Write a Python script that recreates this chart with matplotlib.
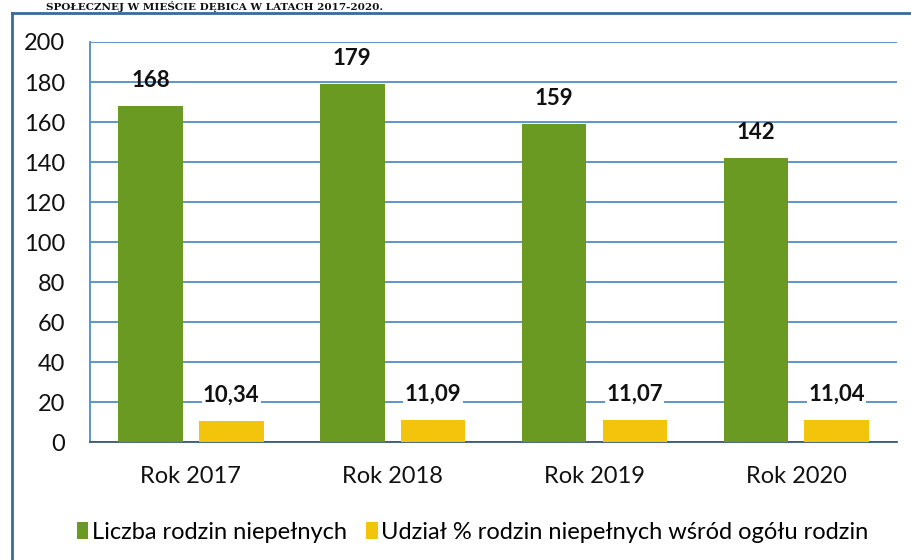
import matplotlib.pyplot as plt
import numpy as np
from matplotlib.lines import Line2D

# --- Dane ---
lata = ["Rok 2017", "Rok 2018", "Rok 2019", "Rok 2020"]
liczba_rodzin = [168, 179, 159, 142]
udzial_proc = [10.34, 11.09, 11.07, 11.04]
etykiety_udzial = ["10,34", "11,09", "11,07", "11,04"]
y_ticks = [0, 20, 40, 60, 80, 100, 120, 140, 160, 180, 200]

# --- Kolory ---
zielony = '#6b9a22'
zolty = '#f2c40c'
siatka = '#4f8cc9'

plt.rcParams['font.family'] = ['Lato', 'DejaVu Sans']

fig = plt.figure(figsize=(9.11, 5.6), dpi=100)
ax = fig.add_axes([0.0988, 0.2107, 0.886, 0.7143])

x = np.arange(len(lata))
szer = 0.32
ax.bar(x - 0.2, liczba_rodzin, szer, color=zielony, label='Liczba rodzin niepełnych', zorder=3)
ax.bar(x + 0.2, udzial_proc, szer, color=zolty,
       label='Udział % rodzin niepełnych wśród ogółu rodzin', zorder=3)

for xi, v in zip(x, liczba_rodzin):
    ax.text(xi - 0.2, v + 13, str(v), ha='center', va='center',
            fontsize=16, fontweight='bold', color='#111111', zorder=4)
for xi, v, lab in zip(x, udzial_proc, etykiety_udzial):
    ax.text(xi + 0.2, v + 13, lab, ha='center', va='center',
            fontsize=16, fontweight='bold', color='#111111', zorder=4,
            bbox=dict(facecolor='white', edgecolor='none', pad=1))

ax.set_xlim(-0.5, len(lata) - 0.5)
ax.set_ylim(0, 200)
ax.set_yticks(y_ticks)
ax.set_xticks(x)
ax.set_xticklabels(lata)
ax.tick_params(axis='both', length=0, labelsize=17, colors='#111111')
ax.tick_params(axis='x', pad=17)
ax.tick_params(axis='y', pad=18)
ax.grid(axis='y', color=siatka, linewidth=1.3, zorder=0)

for s in ['top', 'right']:
    ax.spines[s].set_visible(False)
ax.spines['left'].set_color(siatka)
ax.spines['left'].set_linewidth(1.3)
ax.spines['bottom'].set_color('#3d5a78')
ax.spines['bottom'].set_linewidth(1.3)

ax.legend(loc='lower left', bbox_to_anchor=(-0.043, -0.305), ncol=2, frameon=False,
          fontsize=17, handlelength=0.5, handleheight=0.75, handletextpad=0.15,
          columnspacing=0.8)

# Ramka wokół wykresu (przycięta)
fig.add_artist(Line2D([12 / 911, 1.0], [1 - 13 / 560, 1 - 13 / 560],
                      transform=fig.transFigure, color='#3a6a9a', linewidth=2))
fig.add_artist(Line2D([12 / 911, 12 / 911], [0, 1 - 13 / 560],
                      transform=fig.transFigure, color='#3a6a9a', linewidth=2))

# Tytuł u góry (w oryginale przycięty)
fig.text(0.05, 1 - 10.5 / 560, "SPOŁECZNEJ W MIEŚCIE DĘBICA W LATACH 2017-2020.",
         ha='left', va='baseline', fontsize=7.5, fontweight='bold',
         family='DejaVu Serif', color='#111111')

fig.savefig('out.png', dpi=100)
